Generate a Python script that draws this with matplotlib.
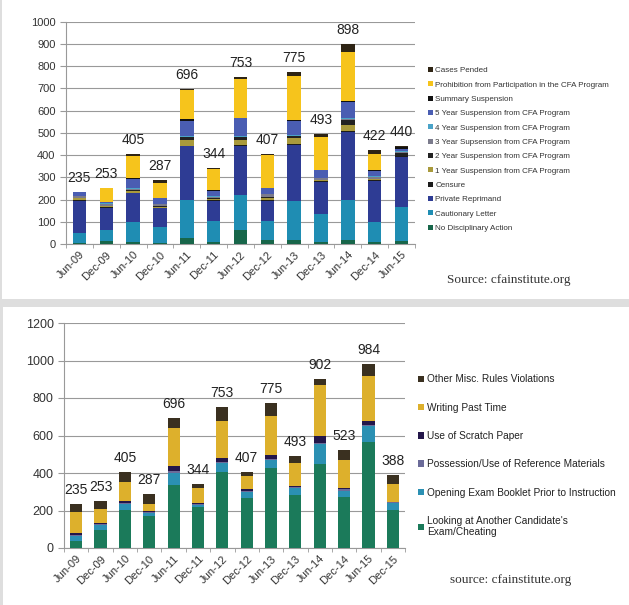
import numpy as np
import matplotlib.pyplot as plt
from matplotlib.patches import Rectangle, Patch

plt.rcParams['font.family'] = ['Liberation Sans', 'DejaVu Sans']

# ---- top chart: disciplinary sanctions ----
top_periods = ['Jun-09', 'Dec-09', 'Jun-10', 'Dec-10', 'Jun-11', 'Dec-11',
               'Jun-12', 'Dec-12', 'Jun-13', 'Dec-13', 'Jun-14', 'Dec-14', 'Jun-15']
top_totals = [235, 253, 405, 287, 696, 344, 753, 407, 775, 493, 898, 422, 440]

no_action     = [5, 12, 8, 3, 25, 8, 65, 20, 20, 10, 20, 8, 12]
caution       = [45, 50, 92, 75, 175, 97, 155, 85, 175, 125, 180, 92, 153]
reprimand     = [145, 100, 128, 82, 240, 90, 220, 90, 250, 145, 305, 185, 225]
censure       = [3, 3, 3, 2, 3, 3, 5, 3, 3, 3, 5, 3, 5]
susp_1yr      = [8, 5, 8, 5, 25, 5, 25, 10, 27, 3, 25, 3, 3]
susp_2yr      = [3, 3, 5, 3, 12, 3, 10, 5, 10, 3, 25, 3, 12]
susp_3yr      = [5, 8, 5, 8, 3, 7, 3, 10, 3, 8, 3, 8, 5]
susp_4yr      = [3, 2, 3, 2, 2, 2, 2, 2, 2, 2, 2, 3, 3]
susp_5yr      = [15, 5, 40, 25, 70, 25, 80, 25, 65, 32, 73, 25, 10]
summary       = [0, 2, 3, 2, 6, 2, 3, 2, 3, 2, 5, 2, 7]
prohibition   = [0, 63, 103, 68, 130, 96, 172, 150, 197, 148, 222, 73, 0]
pended        = [3, 0, 7, 12, 5, 6, 13, 5, 20, 12, 33, 17, 5]

top_series = [
    ('No Disciplinary Action', no_action, '#17664a'),
    ('Cautionary Letter', caution, '#1f8db3'),
    ('Private Reprimand', reprimand, '#2e3c94'),
    ('Censure', censure, '#1c1c1c'),
    ('1 Year Suspension from CFA Program', susp_1yr, '#a99a3c'),
    ('2 Year Suspension from CFA Program', susp_2yr, '#222222'),
    ('3 Year Supsension from CFA Program', susp_3yr, '#7b7b8c'),
    ('4 Year Suspension from CFA Program', susp_4yr, '#4aa3c8'),
    ('5 Year Suspension from CFA Program', susp_5yr, '#4a5db2'),
    ('Summary Suspension', summary, '#111111'),
    ('Prohibition from Participation in the CFA Program', prohibition, '#f6c41c'),
    ('Cases Pended', pended, '#2e2414'),
]

# ---- bottom chart: violation types ----
bot_periods = ['Jun-09', 'Dec-09', 'Jun-10', 'Dec-10', 'Jun-11', 'Dec-11', 'Jun-12',
               'Dec-12', 'Jun-13', 'Dec-13', 'Jun-14', 'Dec-14', 'Jun-15', 'Dec-15']
bot_totals = [235, 253, 405, 287, 696, 344, 753, 407, 775, 493, 902, 523, 984, 388]

looking    = [40, 95, 205, 170, 335, 220, 405, 265, 425, 285, 450, 270, 565, 205]
opening    = [25, 30, 30, 15, 65, 10, 50, 35, 45, 35, 105, 35, 85, 35]
possession = [5, 5, 5, 5, 10, 3, 5, 5, 5, 5, 5, 10, 5, 3]
scratch    = [10, 5, 10, 5, 25, 7, 20, 10, 20, 5, 35, 5, 25, 2]
past_time  = [110, 75, 100, 40, 205, 80, 200, 70, 210, 125, 275, 150, 235, 95]
other_misc = [45, 43, 55, 52, 56, 24, 73, 22, 70, 38, 32, 53, 69, 48]

bot_series = [
    ("Looking at Another Candidate's\nExam/Cheating", looking, '#1b7a5a'),
    ('Opening Exam Booklet Prior to Instruction', opening, '#2b90b3'),
    ('Possession/Use of Reference Materials', possession, '#6b6b99'),
    ('Use of Scratch Paper', scratch, '#23164a'),
    ('Writing Past Time', past_time, '#ddb02c'),
    ('Other Misc. Rules Violations', other_misc, '#3a3020'),
]

W, H = 629, 605
fig = plt.figure(figsize=(W / 100, H / 100), dpi=100, facecolor='#dedede')
# white panels behind the two charts
fig.patches.append(Rectangle((2 / W, 1 - 299 / H), 1, 299 / H, transform=fig.transFigure,
                             facecolor='white', edgecolor='none', zorder=-5))
fig.patches.append(Rectangle((3 / W, 0), 1, 298 / H, transform=fig.transFigure,
                             facecolor='white', edgecolor='none', zorder=-5))


def px_axes(x0, y0, x1, y1):
    return fig.add_axes([x0 / W, 1 - y1 / H, (x1 - x0) / W, (y1 - y0) / H])


def stacked(ax, periods, series, totals, ymax, step, label_pad):
    x = np.arange(len(periods))
    bottom = np.zeros(len(periods))
    handles = []
    for name, vals, col in series:
        ax.bar(x, vals, 0.5, bottom=bottom, color=col, zorder=3)
        bottom = bottom + np.array(vals)
        handles.append(Patch(facecolor=col, label=name))
    for xi, yi, t in zip(x, bottom, totals):
        ax.annotate(str(t), (xi, yi), xytext=(0, label_pad), textcoords='offset points',
                    ha='center', va='bottom', fontsize=10, color='#222222')
    ax.set_xlim(-0.5, len(periods) - 0.5)
    ax.set_ylim(0, ymax)
    ax.set_yticks(np.arange(0, ymax + 1, step))
    ax.yaxis.grid(True, color='#999999', linewidth=0.8, zorder=0)
    ax.set_axisbelow(True)
    ax.set_xticks(x)
    ax.set_xticklabels(periods, rotation=45, ha='right', rotation_mode='anchor')
    ax.set_xticks(np.arange(-0.5, len(periods), 1), minor=True)
    ax.tick_params(axis='x', which='major', length=0, pad=4, labelsize=8, labelcolor='#333333')
    ax.tick_params(axis='x', which='minor', length=3, color='#999999')
    ax.tick_params(axis='y', length=4, color='#999999', labelcolor='#333333')
    for s in ['top', 'right']:
        ax.spines[s].set_visible(False)
    ax.spines['left'].set_color('#999999')
    ax.spines['bottom'].set_color('#999999')
    ax.set_facecolor('none')
    return handles


ax1 = px_axes(66, 21.7, 415, 244)
h1 = stacked(ax1, top_periods, top_series, top_totals, 1000, 100, 5)
ax1.tick_params(axis='y', labelsize=8)
ax1.legend(handles=h1[::-1], loc='upper left', bbox_to_anchor=(428 / W, 1 - 67 / H),
           bbox_transform=fig.transFigure, frameon=False, fontsize=5.8,
           handlelength=0.6, handleheight=0.6, handletextpad=0.3, labelspacing=0.86,
           borderpad=0, borderaxespad=0, labelcolor='#333333')
fig.text(447 / W, 1 - 280 / H, 'Source: cfainstitute.org', family='Liberation Serif',
         fontsize=9.5, color='#333333', va='center')

ax2 = px_axes(64, 323, 405, 548)
h2 = stacked(ax2, bot_periods, bot_series, bot_totals, 1200, 200, 5)
ax2.tick_params(axis='y', labelsize=9)
ax2.legend(handles=h2[::-1], loc='upper left', bbox_to_anchor=(418 / W, 1 - 374.5 / H),
           bbox_transform=fig.transFigure, frameon=False, fontsize=7.3,
           handlelength=0.6, handleheight=0.6, handletextpad=0.3, labelspacing=1.8,
           borderpad=0, borderaxespad=0, labelcolor='#222222')
fig.text(450 / W, 1 - 580 / H, 'source: cfainstitute.org', family='Liberation Serif',
         fontsize=9.5, color='#333333', va='center')

fig.savefig('out.png', dpi=100, facecolor=fig.get_facecolor())
